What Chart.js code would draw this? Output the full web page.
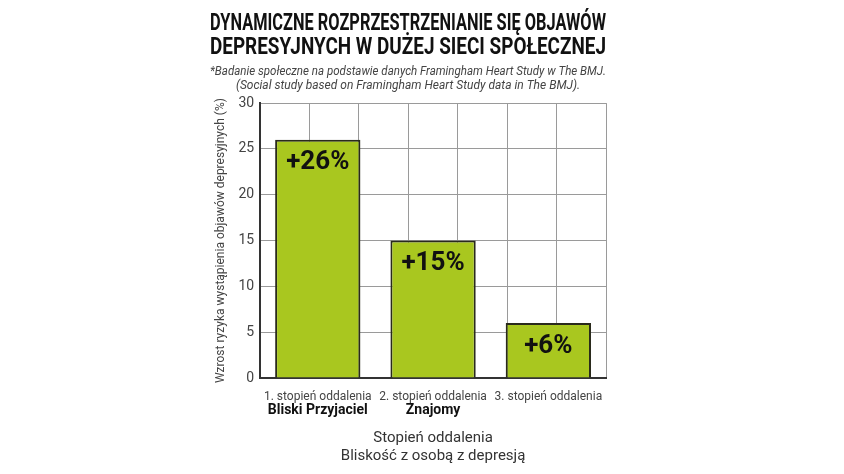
<!DOCTYPE html>
<html>
<head>
<meta charset="utf-8">
<script src="https://cdn.jsdelivr.net/npm/chart.js@4"></script>
<style>
  body { margin: 0; background: #fff; }
  #wrap { width: 844px; height: 474px; }
</style>
</head>
<body>
<div id="wrap"><canvas id="bar_chart"></canvas></div>
<script>
const categories = [
  ['1. stopień oddalenia', 'Bliski Przyjaciel'],
  ['2. stopień oddalenia', 'Znajomy'],
  ['3. stopień oddalenia', '']
];
const riskValues = [26, 15, 6];
const barLabels = ['+26%', '+15%', '+6%'];

const FONT = "'Roboto', sans-serif";
Chart.defaults.font.family = FONT;
Chart.defaults.color = '#333';

// draws "+26%" etc. inside the bar tops
const barText = {
  id: 'barText',
  afterDatasetsDraw(chart) {
    const ctx = chart.ctx;
    const meta = chart.getDatasetMeta(0);
    ctx.save();
    ctx.font = "bold 26px " + FONT;
    ctx.fillStyle = '#111';
    ctx.textAlign = 'center';
    ctx.textBaseline = 'top';
    meta.data.forEach((bar, i) => {
      ctx.fillText(barLabels[i], bar.x, bar.y + 10);
    });
    ctx.restore();
  }
};

// second-line category labels in bold
const boldSecondLine = {
  id: 'boldSecondLine',
  afterDraw(chart) {
    const ctx = chart.ctx;
    const xs = chart.scales.x;
    ctx.save();
    ctx.font = "bold 14px " + FONT;
    ctx.fillStyle = '#111';
    ctx.textAlign = 'center';
    ctx.textBaseline = 'middle';
    categories.forEach((c, i) => {
      ctx.fillText(c[1], xs.getPixelForValue(i), xs.top + 32);
    });
    ctx.restore();
  }
};

const ctx1 = document.getElementById('bar_chart').getContext('2d');
const chart1 = new Chart(ctx1, {
  type: 'bar',
  data: {
    labels: categories.map(c => c[0]),
    datasets: [{
      data: riskValues,
      backgroundColor: '#a9c71f',
      borderColor: '#2a2a1c',
      borderWidth: 2,
      barPercentage: 0.74,
      categoryPercentage: 1
    }]
  },
  options: {
    responsive: true,
    maintainAspectRatio: false,
    animation: false,
    layout: { padding: { left: 210, right: 238, top: 0, bottom: 4 } },
    plugins: {
      legend: { display: false },
      tooltip: { enabled: false },
      title: {
        display: true,
        text: ['DYNAMICZNE ROZPRZESTRZENIANIE SIĘ OBJAWÓW', 'DEPRESYJNYCH W DUŻEJ SIECI SPOŁECZNEJ'],
        color: '#111',
        font: { size: 23, weight: 'bold', lineHeight: 1.05 },
        padding: { top: 12, bottom: 4 }
      },
      subtitle: {
        display: true,
        text: ['*Badanie społeczne na podstawie danych Framingham Heart Study w The BMJ.', '(Social study based on Framingham Heart Study data in The BMJ).'],
        color: '#444',
        font: { size: 12, style: 'italic', lineHeight: 1.2 },
        padding: { bottom: 10 }
      }
    },
    scales: {
      x: {
        grid: { display: false },
        border: { color: '#333', width: 2 },
        ticks: { color: '#444', font: { size: 12 }, padding: 4, maxRotation: 0, minRotation: 0, autoSkip: false },
        title: {
          display: true,
          text: ['Stopień oddalenia', 'Bliskość z osobą z depresją'],
          color: '#333',
          font: { size: 15, lineHeight: 1.25 },
          padding: { top: 20 }
        }
      },
      xg: {
        type: 'linear',
        position: 'bottom',
        min: 0, max: 6,
        display: true,
        ticks: { display: false, stepSize: 1 },
        grid: { color: '#9a9a9a', lineWidth: 1, drawTicks: false },
        border: { display: false }
      },
      y: {
        min: 0, max: 30,
        ticks: { stepSize: 5, color: '#444', font: { size: 14 }, padding: 6 },
        grid: { color: '#9a9a9a', lineWidth: 1, drawTicks: false },
        border: { color: '#333', width: 2 },
        title: {
          display: true,
          text: 'Wzrost ryzyka wystąpienia objawów depresyjnych (%)',
          color: '#444',
          font: { size: 12 }
        }
      }
    }
  },
  plugins: [barText, boldSecondLine]
});
</script>
</body>
</html>
